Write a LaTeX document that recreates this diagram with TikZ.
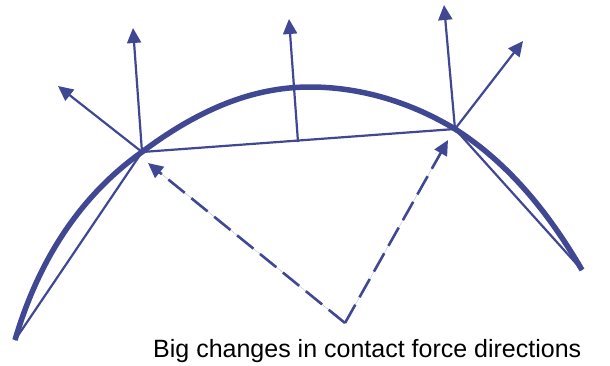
\documentclass[tikz,border=0pt]{standalone}
\usepackage{fontspec}
\setmainfont{Liberation Sans}
\usetikzlibrary{arrows.meta}
\definecolor{ink}{RGB}{64,72,148}
\begin{document}
\begin{tikzpicture}[x=1pt,y=-1pt,
  thinline/.style={draw=ink,line width=2.2pt},
  thickline/.style={draw=ink,line width=5.5pt},
  force/.style={draw=ink,line width=2.2pt,-{Triangle[length=15pt,width=14pt]},fill=ink},
  dashforce/.style={force,line width=2.6pt,dash pattern=on 21pt off 8.5pt}]
\useasboundingbox (0,0) rectangle (610,365);
\coordinate (L) at (15,340);
\coordinate (R) at (582,270);
\coordinate (P1) at (142,152);
\coordinate (P2) at (455,129);
\coordinate (T) at (310,87);
\coordinate (M) at (298,142);
\coordinate (V) at (345,323);
\coordinate (T1a) at (133,28);
\coordinate (T1b) at (58,86);
\coordinate (TM) at (289,19);
\coordinate (T2a) at (444,5);
\coordinate (T2b) at (523,41);
\coordinate (D1) at (148,163);
\coordinate (D2) at (448,140);
% curve
\draw[thickline] (L) .. controls (40,255) and (84,193) .. (P1)
  .. controls (198,110) and (252,87) .. (T)
  .. controls (362,87) and (412,103) .. (P2)
  .. controls (510,164) and (550,215) .. (R);
% chords
\draw[thinline] (L) -- (P1) -- (P2) -- (R);
% force arrows
\draw[force] (P1) -- (T1a);
\draw[force] (P1) -- (T1b);
\draw[force] (M) -- (TM);
\draw[force] (P2) -- (T2a);
\draw[force] (P2) -- (T2b);
% dashed arrows
\draw[dashforce] (V) -- (D1);
\draw[dashforce] (V) -- (D2);
\node[anchor=base west,inner sep=0,font=\fontsize{25}{30}\selectfont] (cap) at (153,357) {Big changes in contact force directions};
\end{tikzpicture}
\end{document}
